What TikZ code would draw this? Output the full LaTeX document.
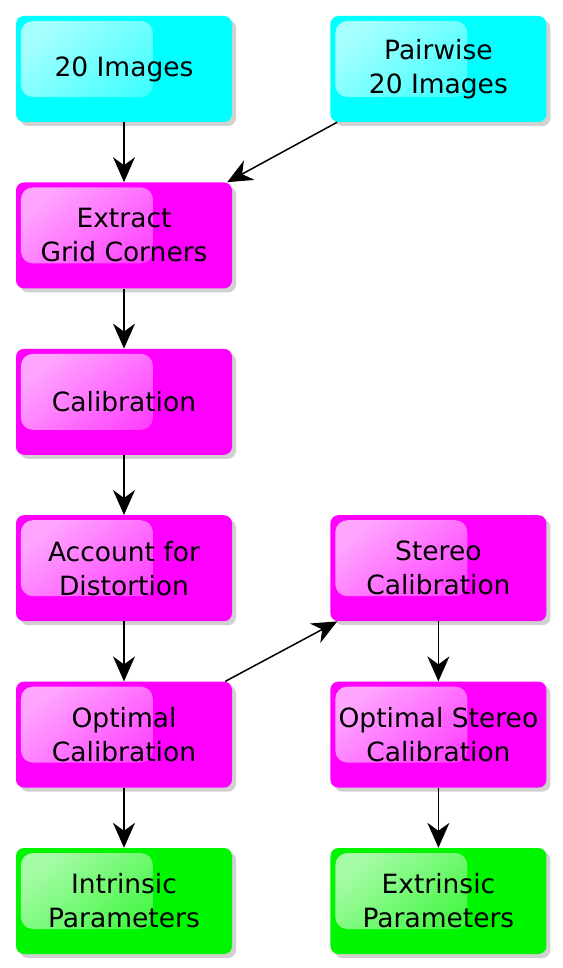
\documentclass[tikz,border=0pt]{standalone}
\usepackage{fontspec}
\setmainfont{DejaVu Sans}
\usepackage{tikz}
\usetikzlibrary{shapes.geometric, arrows, arrows.meta, positioning, shadows, fadings}
\usepackage{xcolor}
\definecolor{calibcyan}{RGB}{0, 255, 255}
\definecolor{calibmagenta}{RGB}{255, 0, 255}
\definecolor{calibgreen}{RGB}{0, 245, 0}
\tikzfading[name=glossfade, left color=transparent!35, right color=transparent!92]

\begin{document}
\begin{tikzpicture}[node distance=60pt, auto]
    \tikzstyle{box} = [rectangle, rounded corners=8pt, minimum width=216pt, minimum height=106pt, text centered, align=center,
        font=\fontsize{26.5}{34}\selectfont, draw=none,
        drop shadow={shadow xshift=4pt, shadow yshift=-4pt, opacity=0.3, fill=black!60},
        path picture={\fill[white, rounded corners=12pt, path fading=glossfade, fading angle=-30]
            ([shift={(5pt,-5pt)}]path picture bounding box.north west) rectangle ++(132pt,-76pt);}]
    \tikzstyle{source} = [box, fill=calibcyan]
    \tikzstyle{process} = [box, fill=calibmagenta]
    \tikzstyle{result} = [box, fill=calibgreen]
    \tikzstyle{arrow} = [line width=1.5pt, -{Stealth[length=25pt, width=22pt, inset=8pt]}]

    \useasboundingbox (0,0) rectangle (562pt,-968pt);

    \node (imgs) [source] at (124pt,-69pt) {20 Images};
    \node (pair) [source, right=98pt of imgs] {Pairwise\\20 Images};
    \node (grid) [process, below=of imgs] {Extract\\Grid Corners};
    \node (calib) [process, below=of grid] {Calibration};
    \node (dist) [process, below=of calib] {Account for\\Distortion};
    \node (optcal) [process, below=of dist] {Optimal\\Calibration};
    \node (intr) [result, below=of optcal] {Intrinsic\\Parameters};
    \node (stereo) [process, right=98pt of dist] {Stereo\\Calibration};
    \node (optstereo) [process, below=of stereo] {Optimal Stereo\\Calibration};
    \node (extr) [result, below=of optstereo] {Extrinsic\\Parameters};

    \draw [arrow] (imgs) -- (grid);
    \draw [arrow] ([xshift=7pt]pair.south west) -- ([xshift=-5pt]grid.north east);
    \draw [arrow] (grid) -- (calib);
    \draw [arrow] (calib) -- (dist);
    \draw [arrow] (dist) -- (optcal);
    \draw [arrow] (optcal) -- (intr);
    \draw [arrow] ([xshift=-7pt]optcal.north east) -- ([xshift=7pt]stereo.south west);
    \draw [arrow] (stereo) -- (optstereo);
    \draw [arrow] (optstereo) -- (extr);
\end{tikzpicture}
\end{document}
